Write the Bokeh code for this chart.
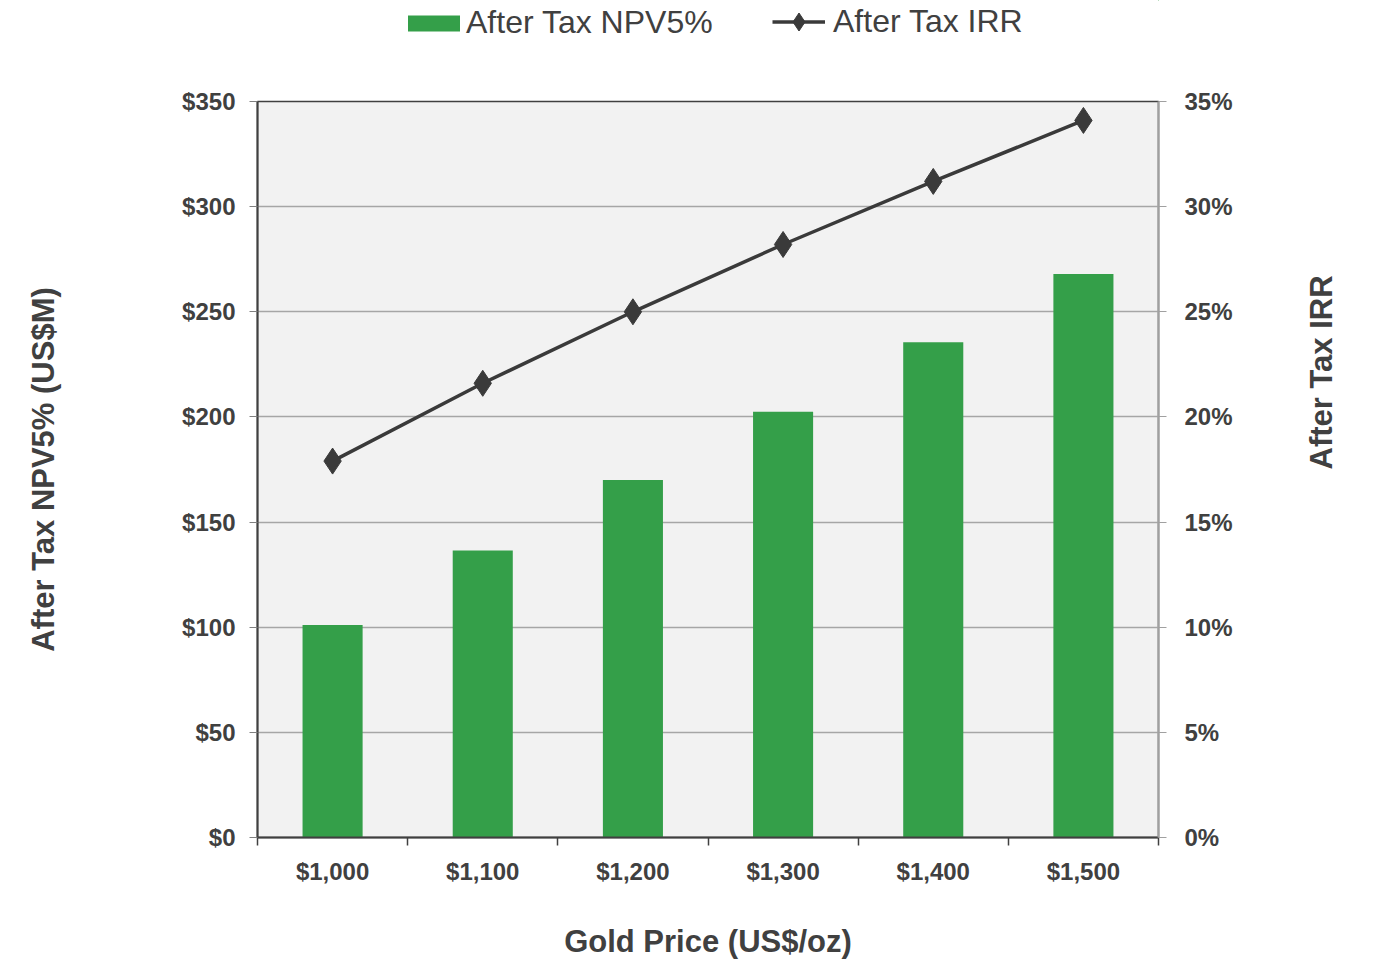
import math
from bokeh.plotting import figure
from bokeh.layouts import column
from bokeh.models import (Range1d, LinearAxis, FixedTicker, NumeralTickFormatter,
                          PrintfTickFormatter, Legend, LegendItem, ColumnDataSource)
from bokeh.embed import file_html
from bokeh.resources import INLINE

# ---- data ----
gold_price = [1000, 1100, 1200, 1300, 1400, 1500]
npv5 = [101, 136.5, 170, 202.5, 235.5, 268]
irr = [17.9, 21.6, 25.0, 28.2, 31.2, 34.1]
npv_ticks = [0, 50, 100, 150, 200, 250, 300, 350]
irr_ticks = [0, 5, 10, 15, 20, 25, 30, 35]
series_names = ["After Tax NPV5%", "After Tax IRR"]

GREEN = "#349f49"
DARK = "#3a3a3a"
TXT = "#404040"
FONT = "Liberation Sans"

W = 1359
LEG_H = 60
H = 962 - LEG_H

src = ColumnDataSource(dict(x=gold_price, npv=npv5, irr=irr))

p = figure(width=W, height=H, output_backend="svg", toolbar_location=None,
           x_range=Range1d(950, 1550), y_range=Range1d(0, 350),
           min_border_left=257, min_border_right=198, min_border_top=101 - LEG_H,
           min_border_bottom=125, y_axis_location=None, x_axis_location=None)
p.background_fill_color = "#f2f2f2"
p.border_fill_color = "white"
p.outline_line_color = "#404040"
p.outline_line_width = 1.5

p.extra_y_ranges = {"irr": Range1d(0, 35)}

bar_style = dict(fill_color=GREEN, line_color=None)
line_style = dict(line_color=DARK, line_width=3.5)
mark_style = dict(marker="diamond", fill_color=DARK, line_color=DARK)

p.vbar(x="x", top="npv", width=40, source=src, **bar_style)
p.line(x="x", y="irr", source=src, y_range_name="irr", **line_style)
p.scatter(x="x", y="irr", source=src, y_range_name="irr", size=26, **mark_style)

p.xgrid.visible = False

# left axis
ly = LinearAxis(ticker=FixedTicker(ticks=npv_ticks),
                formatter=NumeralTickFormatter(format="$0"))
ly.axis_label = "After Tax NPV5% (US$M)"
ly.axis_line_color = "#404040"
ly.axis_line_width = 2
ly.major_tick_out = 8
ly.major_tick_in = 0
ly.major_tick_line_color = "#808080"
ly.minor_tick_line_color = None
ly.major_label_standoff = 14
ly.axis_label_standoff = 118
p.add_layout(ly, "left")

# right axis
ry = LinearAxis(y_range_name="irr", ticker=FixedTicker(ticks=irr_ticks),
                formatter=PrintfTickFormatter(format="%d%%"))
ry.axis_label = "After Tax IRR"
ry.axis_label_orientation = math.pi / 2
ry.axis_line_color = "#a0a0a0"
ry.axis_line_width = 2
ry.major_tick_out = 8
ry.major_tick_in = 0
ry.major_tick_line_color = "#a0a0a0"
ry.minor_tick_line_color = None
ry.major_label_standoff = 18
ry.axis_label_standoff = 86
p.add_layout(ry, "right")

# bottom axis
minor = [g - 50 for g in gold_price] + [gold_price[-1] + 50]
bx = LinearAxis(ticker=FixedTicker(ticks=gold_price, minor_ticks=minor),
                formatter=NumeralTickFormatter(format="$0,0"))
bx.axis_label = "Gold Price (US$/oz)"
bx.axis_line_color = "#404040"
bx.axis_line_width = 2
bx.major_tick_out = 0
bx.major_tick_in = 0
bx.minor_tick_out = 8
bx.minor_tick_in = 0
bx.minor_tick_line_color = "#404040"
bx.minor_tick_line_width = 1.5
bx.major_label_standoff = 12
bx.axis_label_standoff = 36
p.add_layout(bx, "below")

for ax in (ly, ry, bx):
    ax.major_label_text_font = FONT
    ax.major_label_text_font_style = "bold"
    ax.major_label_text_font_size = "24px"
    ax.major_label_text_color = TXT
    ax.axis_label_text_font = FONT
    ax.axis_label_text_font_style = "bold"
    ax.axis_label_text_font_size = "31px"
    ax.axis_label_text_color = TXT

p.ygrid.grid_line_color = "#a6a6a6"
p.ygrid.grid_line_width = 1.5
p.ygrid.ticker = FixedTicker(ticks=npv_ticks)

# ---- legend strip (separate small figure above the chart) ----
# its ranges are far from the data, so its glyphs only serve as legend swatches
lf = figure(width=W, height=LEG_H, output_backend="svg", toolbar_location=None,
            x_range=Range1d(0, 1), y_range=Range1d(-2, -1),
            min_border=0, x_axis_location=None, y_axis_location=None)
lf.outline_line_color = None
lf.background_fill_color = "white"
lf.border_fill_color = "white"
lf.grid.visible = False
lb = lf.vbar(x="x", top="npv", width=40, source=src, **bar_style)
ll = lf.line(x="x", y="irr", source=src, **line_style)
lm = lf.scatter(x="x", y="irr", source=src, size=10, **mark_style)


def make_legend(item, loc, gw, gh, standoff):
    lg = Legend(items=[item], orientation="horizontal", location=loc)
    lg.padding = 0
    lg.margin = 0
    lg.border_line_color = None
    lg.background_fill_alpha = 0
    lg.glyph_width = gw
    lg.glyph_height = gh
    lg.label_standoff = standoff
    lg.label_text_font = FONT
    lg.label_text_font_size = "32px"
    lg.label_text_color = TXT
    return lg


# frame of the legend strip is aligned with the chart frame (left edge at 257)
leg1 = make_legend(LegendItem(label=series_names[0], renderers=[lb]),
                   (144, LEG_H - 41), 65, 20, 0)
leg2 = make_legend(LegendItem(label=series_names[1], renderers=[ll, lm]),
                   (515, LEG_H - 44), 53, 45, 8)
lf.add_layout(leg1, "center")
lf.add_layout(leg2, "center")

layout = column(lf, p, spacing=0)
open("out.html", "w").write(file_html(layout, INLINE))
